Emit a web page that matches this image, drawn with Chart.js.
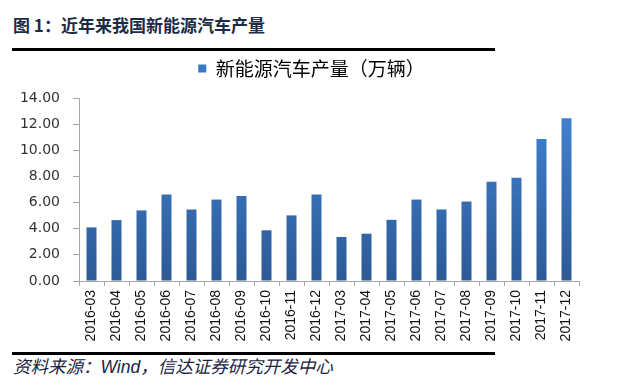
<!DOCTYPE html>
<html>
<head>
<meta charset="utf-8">
<script src="https://cdn.jsdelivr.net/npm/chart.js@4/dist/chart.umd.min.js"></script>
<style>
  body { margin: 0; width: 619px; height: 386px; background: #fff; position: relative; overflow: hidden; }
  #title { position: absolute; left: 13px; top: 14px; font: bold 17px "Noto Sans CJK SC"; line-height: 22px; color: #1e2b45; white-space: nowrap; }
  .rule { position: absolute; left: 12px; width: 483px; height: 3px; background: #000; }
  #source { position: absolute; left: 13px; top: 356px; font: italic 17.5px "Liberation Sans", "Noto Sans CJK SC"; line-height: 22px; color: #1c2445; white-space: nowrap; }
  #wrap { position: absolute; left: 0; top: 50px; width: 619px; height: 300px; }
</style>
</head>
<body>
<div id="title">图 1：近年来我国新能源汽车产量</div>
<div class="rule" style="top:48px"></div>
<div id="wrap"><canvas id="myChart"></canvas></div>
<div class="rule" style="top:352px"></div>
<div id="source">资料来源：Wind，信达证券研究开发中心</div>
<script>
// 月份
const months = [
  "2016-03", "2016-04", "2016-05", "2016-06", "2016-07", "2016-08", "2016-09",
  "2016-10", "2016-11", "2016-12",
  "2017-03", "2017-04", "2017-05", "2017-06", "2017-07", "2017-08", "2017-09",
  "2017-10", "2017-11", "2017-12",
];
// 新能源汽车产量（万辆）
const production = [
  4.10, 4.66, 5.40, 6.61, 5.47, 6.23, 6.51, 3.88, 5.02, 6.61,
  3.37, 3.62, 4.68, 6.23, 5.47, 6.08, 7.60, 7.90, 10.87, 12.46,
];
const seriesLabel = "新能源汽车产量（万辆）";
const yTicks = [0, 2, 4, 6, 8, 10, 12, 14];

function barGradient(context) {
  const chart = context.chart;
  const area = chart.chartArea;
  if (!area) return "#3a76c4";
  const g = chart.ctx.createLinearGradient(0, area.top, 0, area.bottom);
  g.addColorStop(0, "#4384d6");
  g.addColorStop(1, "#2c5a95");
  return g;
}

// 图例下方多留点空，并稍微右移
const legendTweak = {
  id: "legendTweak",
  beforeLayout(chart) {
    const lg = chart.legend;
    if (lg && !lg._patched) {
      const fit = lg.fit;
      lg.fit = function () {
        fit.call(this);
        this.height += 10;
      };
      lg._patched = true;
    }
  },
  afterLayout(chart) {
    const lg = chart.legend;
    if (lg) {
      lg.left += 22;
      lg.right += 22;
    }
  },
};

const ctx = document.getElementById("myChart");

new Chart(ctx, {
  type: "bar",
  data: {
    labels: months,
    datasets: [
      {
        label: seriesLabel,
        data: production,
        backgroundColor: barGradient,
        borderWidth: 0,
        barPercentage: 0.4,
        categoryPercentage: 1,
      },
    ],
  },
  plugins: [legendTweak],
  options: {
    responsive: true,
    maintainAspectRatio: false,
    animation: false,
    layout: { padding: { left: 0, right: 40, top: 0, bottom: 0 } },
    plugins: {
      tooltip: { enabled: false },
      legend: {
        position: "top",
        labels: {
          boxWidth: 8,
          boxHeight: 8,
          padding: 9,
          color: "#333",
          font: { family: "Noto Sans CJK SC", size: 19 },
          generateLabels: (chart) => [{
            text: seriesLabel,
            fillStyle: "#3a78c6",
            strokeStyle: "#3a78c6",
            lineWidth: 0,
            datasetIndex: 0,
          }],
        },
      },
    },
    scales: {
      x: {
        grid: { display: true, drawOnChartArea: false, drawTicks: true, tickLength: 5, color: "#a6a6a6", offset: true },
        border: { color: "#a6a6a6" },
        ticks: {
          minRotation: 90,
          maxRotation: 90,
          autoSkip: false,
          padding: 4,
          color: "#111",
          font: { family: "Liberation Sans", size: 14 },
        },
        afterFit: (s) => { s.height = 69; },
      },
      y: {
        min: 0,
        max: 14,
        afterBuildTicks: (s) => { s.ticks = yTicks.map((v) => ({ value: v })); },
        grid: { display: true, drawOnChartArea: false, drawTicks: true, tickLength: 6, color: "#a6a6a6" },
        border: { color: "#a6a6a6" },
        ticks: {
          padding: 13,
          color: "#333",
          font: { family: "DejaVu Sans", size: 14 },
          callback: (v) => Number(v).toFixed(2),
        },
        afterFit: (s) => { s.width = 79; },
      },
    },
  },
});
</script>
</body>
</html>
